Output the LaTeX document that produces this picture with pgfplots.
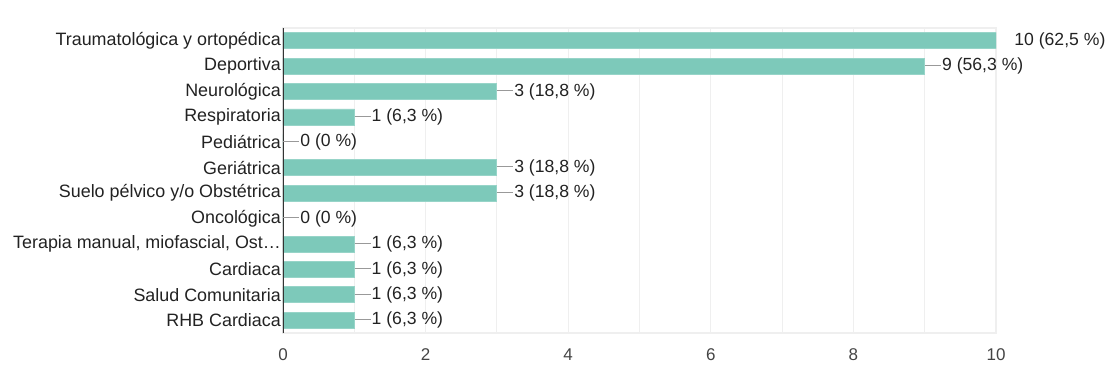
\documentclass[border=0pt]{standalone}
\usepackage{fontspec}
\setmainfont{Liberation Sans}
\usepackage{pgfplots}
\usepackage{pgfplotstable}
\pgfplotsset{compat=1.18}
\definecolor{barc}{HTML}{7DC9BA}
\definecolor{gridc}{HTML}{EFEFEF}
\definecolor{txt}{HTML}{222222}
\definecolor{ticktxt}{HTML}{444444}
\definecolor{ldc}{HTML}{999999}
\newcommand\ld{\textcolor{ldc}{\rule[0.28em]{16bp}{1bp}}\hspace{1bp}}
\pgfplotstableread[col sep=semicolon]{
x;y;lab
10;0;\hspace{18bp}10 (62,5 \%)
9;1;\ld 9 (56,3 \%)
3;2;\ld 3 (18,8 \%)
1;3;\ld 1 (6,3 \%)
0;4;\ld 0 (0 \%)
3;5;\ld 3 (18,8 \%)
3;6;\ld 3 (18,8 \%)
0;7;\ld 0 (0 \%)
1;8;\ld 1 (6,3 \%)
1;9;\ld 1 (6,3 \%)
1;10;\ld 1 (6,3 \%)
1;11;\ld 1 (6,3 \%)
}\datatable
\begin{document}
\begin{tikzpicture}
\path[use as bounding box] (-283bp,-48bp) rectangle (833bp,333bp);
\begin{axis}[
  at={(0,0)}, anchor=south west,
  scale only axis,
  width=713bp, height=305bp,
  xmin=0, xmax=10,
  ymin=-0.5, ymax=11.5,
  y dir=reverse,
  xbar, bar width=16bp, bar shift=0pt,
  xtick={0,2,...,10},
  minor xtick={1,3,...,9},
  xmajorgrids, xminorgrids,
  major grid style={gridc, line width=1.2bp},
  minor grid style={gridc, line width=1.2bp},
  axis line style={gridc, line width=1.2bp},
  major tick length=0pt, minor tick length=0pt,
  ytick={0,...,11},
  yticklabels={Traumatológica y ortopédica, Deportiva, Neurológica, Respiratoria, Pediátrica, Geriátrica, Suelo pélvico y/o Obstétrica, Oncológica, {Terapia manual, miofascial, Ost…}, Cardiaca, Salud Comunitaria, RHB Cardiaca},
  yticklabel style={font=\fontsize{17.9bp}{20bp}\selectfont, text=txt, inner xsep=2bp},
  xticklabel style={font=\fontsize{17bp}{19bp}\selectfont, text=ticktxt, yshift=-12bp},
  /pgf/number format/assume math mode=true,
  point meta=explicit symbolic,
  nodes near coords,
  every node near coord/.append style={anchor=west, inner sep=0pt, font=\fontsize{17.6bp}{20bp}\selectfont, text=txt},
]
\addplot[fill=barc, draw=barc!80!white, line width=0.8bp] table[x=x, y=y, meta=lab] {\datatable};
\draw[black!80, line width=1.2bp] (rel axis cs:0,0) -- (rel axis cs:0,1);
\end{axis}
\end{tikzpicture}
\end{document}
